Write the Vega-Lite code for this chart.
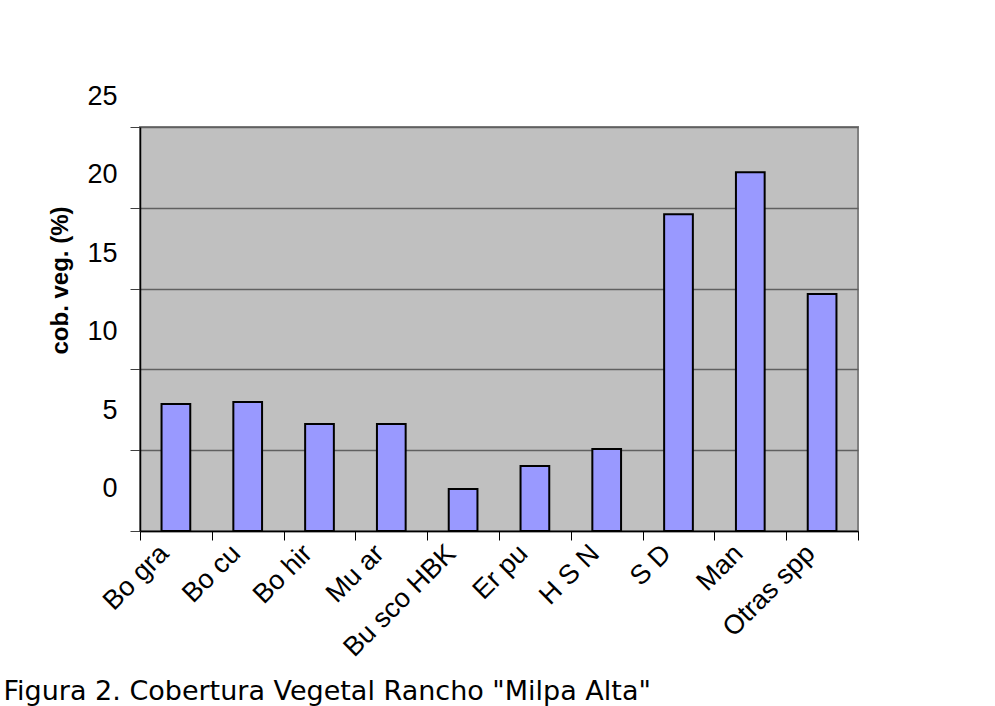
{
  "$schema": "https://vega.github.io/schema/vega-lite/v6.json",
  "width": 718,
  "height": 404,
  "autosize": {"type": "none"},
  "padding": {"left": 140, "top": 127, "right": 137, "bottom": 175},
  "background": "white",
  "config": {
    "view": {"fill": "#C0C0C0", "stroke": "#808080", "strokeWidth": 2}
  },
  "data": {
    "values": [
      {"especie": "Bo gra", "cobertura": 7.86},
      {"especie": "Bo cu", "cobertura": 7.98},
      {"especie": "Bo hir", "cobertura": 6.62},
      {"especie": "Mu ar", "cobertura": 6.62},
      {"especie": "Bu sco HBK", "cobertura": 2.6},
      {"especie": "Er pu", "cobertura": 4.02},
      {"especie": "H S N", "cobertura": 5.07},
      {"especie": "S D", "cobertura": 19.6},
      {"especie": "Man", "cobertura": 22.2},
      {"especie": "Otras spp", "cobertura": 14.67}
    ]
  },
  "mark": {
    "type": "bar",
    "fill": "#9999FF",
    "stroke": "black",
    "strokeWidth": 2,
    "width": {"band": 0.4}
  },
  "encoding": {
    "x": {
      "field": "especie",
      "type": "nominal",
      "sort": null,
      "scale": {"paddingInner": 0, "paddingOuter": 0},
      "axis": {
        "title": "Figura 2. Cobertura Vegetal Rancho \"Milpa Alta\"",
        "titleX": -137,
        "titleY": 168,
        "titleAlign": "left",
        "titleAnchor": "start",
        "titleBaseline": "alphabetic",
        "titleFont": "DejaVu Sans",
        "titleFontSize": 27,
        "titleFontWeight": "normal",
        "titleColor": "black",
        "labelAngle": -45,
        "labelAlign": "right",
        "labelBaseline": "middle",
        "labelFont": "Liberation Sans",
        "labelFontSize": 27,
        "labelColor": "black",
        "labelPadding": 9,
        "labelOffset": -12,
        "labelOverlap": false,
        "labelFlush": false,
        "labelBound": false,
        "tickBand": "extent",
        "tickSize": 9,
        "tickColor": "black",
        "domainColor": "black",
        "domainWidth": 1.5,
        "grid": false
      }
    },
    "y": {
      "field": "cobertura",
      "type": "quantitative",
      "scale": {"domain": [0, 25]},
      "axis": {
        "title": "cob. veg. (%)",
        "titleX": -73,
        "titleY": 153,
        "titleAngle": -90,
        "titleAlign": "center",
        "titleBaseline": "alphabetic",
        "titleFont": "Liberation Sans",
        "titleFontSize": 24,
        "titleFontWeight": "bold",
        "titleColor": "black",
        "values": [0, 5, 10, 15, 20, 25],
        "labelFont": "Liberation Sans",
        "labelFontSize": 27,
        "labelColor": "black",
        "labelPadding": 13,
        "labelOffset": {"expr": "-30.5 - (25 - datum.value) * 0.48"},
        "tickSize": 10,
        "tickColor": "#404040",
        "domainColor": "black",
        "domainWidth": 1.5,
        "grid": true,
        "gridColor": "#606060",
        "gridWidth": 1.5
      }
    }
  }
}
